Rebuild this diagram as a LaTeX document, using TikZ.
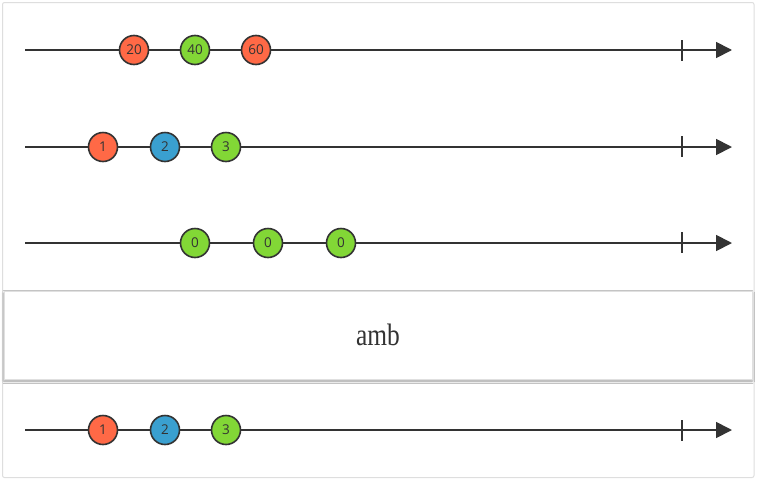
\documentclass[tikz,border=0pt]{standalone}
\usepackage{fontspec}
\setmainfont{Open Sans}
\newfontfamily\ambfont{Liberation Serif}
\usetikzlibrary{shadows.blur,arrows.meta}
\definecolor{mred}{HTML}{FF6946}
\definecolor{mgreen}{HTML}{82D736}
\definecolor{mblue}{HTML}{3AA0D0}
\definecolor{mline}{HTML}{333333}
\begin{document}
\begin{tikzpicture}[x=1pt,y=-1pt,
  marble/.style={circle,draw=mline,line width=1.6pt,minimum size=29pt,inner sep=0pt,font=\fontsize{13.5}{13.5}\selectfont,text=mline},
  timeline/.style={draw=mline,line width=1.8pt,-{Triangle[length=16pt,width=16pt]}},
  tick/.style={draw=mline,line width=1.6pt}]
\useasboundingbox (0,0) rectangle (757,485);
\draw[draw=black!13,fill=white,line width=1pt,rounded corners=2pt] (2.5,2.5) rectangle (754,477.5);
% row 1
\coordinate (s1) at (25,50); \coordinate (e1) at (732,50);
\draw[timeline] (s1) -- (e1);
\coordinate (t1a) at (682,40); \coordinate (t1b) at (682,61);
\draw[tick] (t1a) -- (t1b);
\node[marble,fill=mred] (a1) at (134,50) {20};
\node[marble,fill=mgreen] (a2) at (195,50) {40};
\node[marble,fill=mred] (a3) at (256,50) {60};
% row 2
\coordinate (s2) at (25,147); \coordinate (e2) at (732,147);
\draw[timeline] (s2) -- (e2);
\coordinate (t2a) at (682,136); \coordinate (t2b) at (682,157);
\draw[tick] (t2a) -- (t2b);
\node[marble,fill=mred] (b1) at (103,147) {1};
\node[marble,fill=mblue] (b2) at (165,147) {2};
\node[marble,fill=mgreen] (b3) at (226,147) {3};
% row 3
\coordinate (s3) at (25,243); \coordinate (e3) at (732,243);
\draw[timeline] (s3) -- (e3);
\coordinate (t3a) at (682,232); \coordinate (t3b) at (682,253);
\draw[tick] (t3a) -- (t3b);
\node[marble,fill=mgreen] (c1) at (195,243) {0};
\node[marble,fill=mgreen] (c2) at (268,243) {0};
\node[marble,fill=mgreen] (c3) at (341,243) {0};
% operator box
\node[draw=black!12,fill=white,line width=0.6pt,minimum width=748pt,minimum height=88pt,inner sep=0pt,
  blur shadow={shadow xshift=0pt,shadow yshift=-2pt,shadow blur radius=2.5pt,shadow opacity=40},
  font=\ambfont\fontsize{31}{31}\selectfont,text=mline] (op) at (378,335) {\raisebox{-4pt}{\scalebox{0.82}[1]{amb}}};
% row 5
\coordinate (s5) at (25,430); \coordinate (e5) at (732,430);
\draw[timeline] (s5) -- (e5);
\coordinate (t5a) at (682,420); \coordinate (t5b) at (682,441);
\draw[tick] (t5a) -- (t5b);
\node[marble,fill=mred] (d1) at (103,430) {1};
\node[marble,fill=mblue] (d2) at (165,430) {2};
\node[marble,fill=mgreen] (d3) at (226,430) {3};
\end{tikzpicture}
\end{document}
